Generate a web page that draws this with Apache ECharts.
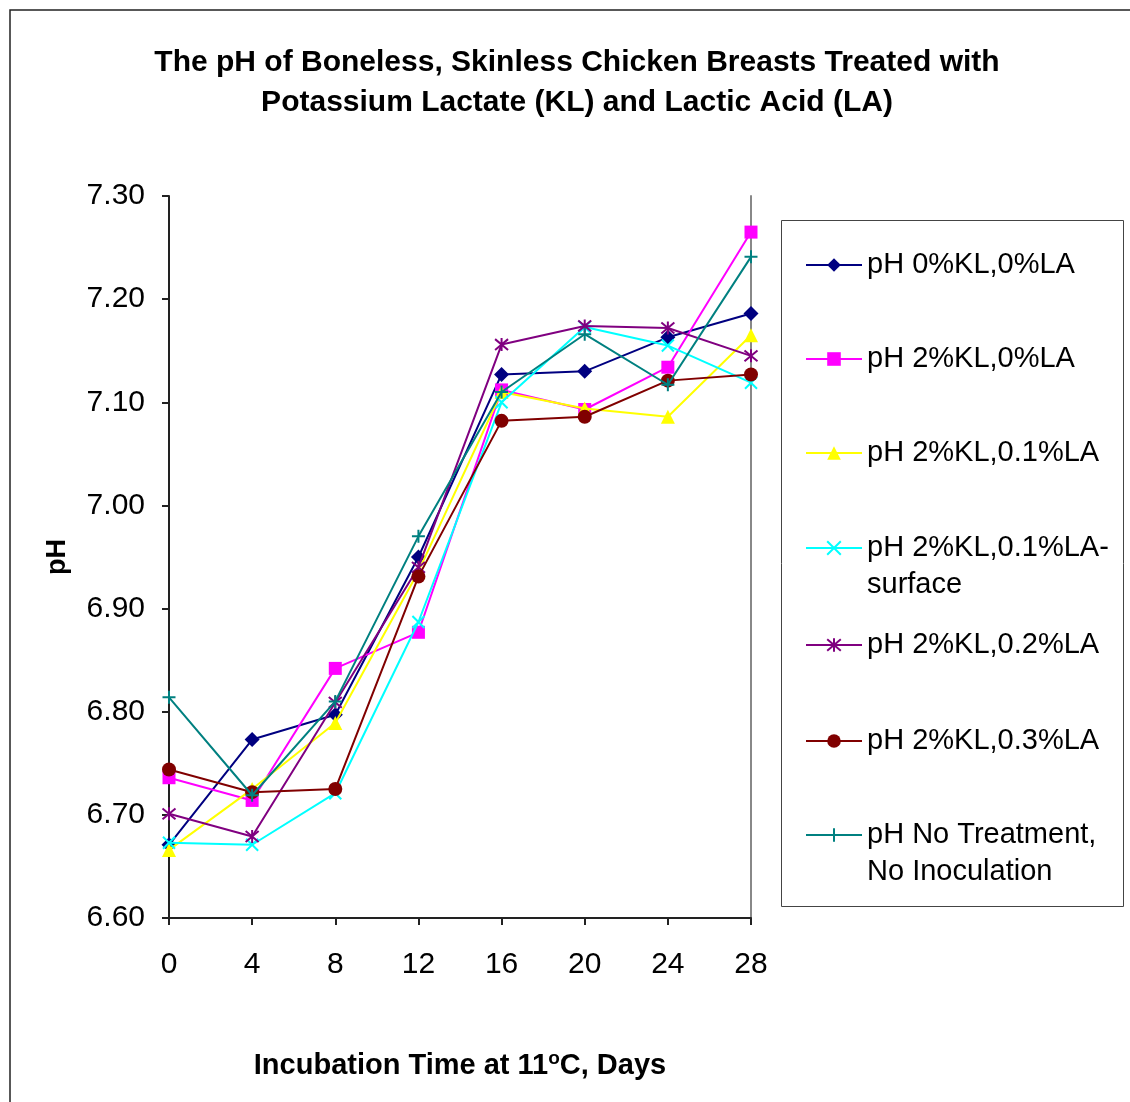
<!DOCTYPE html>
<html>
<head>
<meta charset="utf-8">
<script src="https://cdn.jsdelivr.net/npm/echarts@6/dist/echarts.min.js"></script>
<style>
  html, body { margin: 0; padding: 0; background: #fff; }
  #chart { width: 1130px; height: 1102px; }
</style>
</head>
<body>
<div id="chart"></div>
<script>
// incubation days (x)
var days = [0, 4, 8, 12, 16, 20, 24, 28];
// pH readings per treatment
var ph0KL0LA = [6.671, 6.773, 6.797, 6.950, 7.127, 7.130, 7.163, 7.186];
var ph2KL0LA = [6.736, 6.714, 6.842, 6.877, 7.112, 7.093, 7.134, 7.265];
var ph2KL01LA = [6.666, 6.725, 6.789, 6.936, 7.110, 7.094, 7.086, 7.165];
var ph2KL01LAsurface = [6.673, 6.671, 6.721, 6.887, 7.100, 7.173, 7.155, 7.119];
var ph2KL02LA = [6.701, 6.679, 6.809, 6.940, 7.156, 7.174, 7.172, 7.145];
var ph2KL03LA = [6.744, 6.722, 6.725, 6.931, 7.082, 7.086, 7.121, 7.127];
var phNoTreatment = [6.814, 6.719, 6.810, 6.970, 7.110, 7.166, 7.117, 7.241];

var seriesNames = [
  'pH 0%KL,0%LA',
  'pH 2%KL,0%LA',
  'pH 2%KL,0.1%LA',
  'pH 2%KL,0.1%LA-\nsurface',
  'pH 2%KL,0.2%LA',
  'pH 2%KL,0.3%LA',
  'pH No Treatment,\nNo Inoculation'
];
var seriesData = [ph0KL0LA, ph2KL0LA, ph2KL01LA, ph2KL01LAsurface, ph2KL02LA, ph2KL03LA, phNoTreatment];

var colors = ['#000080', '#ff00ff', '#ffff00', '#00ffff', '#800080', '#800000', '#008080'];
var symbols = [
  'diamond',
  'rect',
  'triangle',
  'path://M0,0L10,10M10,0L0,10',
  'path://M0,0L10,10M10,0L0,10M5,-1L5,11',
  'circle',
  'path://M5,0L5,10M0,5L10,5'
];
var symbolSizes = [15, 13, 14, 12, 13, 14, 13];
var strokeOnly = [false, false, false, true, true, false, true];

// one legend box per entry, so rows sit where the original has them
var legendTops = [246.5, 340.5, 434.5, 492.5, 626.5, 722.5, 779.5];

var chart = echarts.init(document.getElementById('chart'));

var series = seriesNames.map(function (name, i) {
  return {
    name: name,
    type: 'line',
    data: days.map(function (d, j) { return [d, seriesData[i][j]]; }),
    symbol: symbols[i],
    symbolSize: symbolSizes[i],
    showSymbol: true,
    z: 2 + i,
    lineStyle: { color: colors[i], width: 2 },
    itemStyle: strokeOnly[i]
      ? { color: colors[i], borderColor: colors[i], borderWidth: 2 }
      : { color: colors[i], borderWidth: 0 },
    emphasis: { disabled: true },
    animation: false
  };
});

var legends = seriesNames.map(function (name, i) {
  return {
    data: [name],
    orient: 'vertical',
    left: 805,
    top: legendTops[i],
    padding: 0,
    itemWidth: 56,
    itemHeight: 17,
    selectedMode: false,
    // blank first line keeps the icon level with the first text line
    formatter: function (n) { return n.indexOf('\n') >= 0 ? '\n' + n : n; },
    textStyle: {
      fontFamily: 'Liberation Sans',
      fontSize: 29,
      color: '#000',
      lineHeight: 37
    }
  };
});

var option = {
  backgroundColor: '#fff',
  animation: false,
  title: {
    text: 'The pH of Boneless, Skinless Chicken Breasts Treated with\nPotassium Lactate (KL) and Lactic Acid (LA)',
    left: 572,
    top: 38,
    textAlign: 'center',
    textStyle: {
      fontFamily: 'Liberation Sans',
      fontSize: 30,
      fontWeight: 'bold',
      color: '#000',
      lineHeight: 40
    }
  },
  legend: legends,
  grid: { left: 169, right: 379, top: 196, bottom: 184 },
  xAxis: {
    type: 'value',
    min: 0,
    max: 28,
    interval: 4,
    name: 'Incubation Time at 11{sup|o}C, Days',
    nameLocation: 'middle',
    nameGap: 131,
    nameTextStyle: {
      fontFamily: 'Liberation Sans',
      fontSize: 29,
      fontWeight: 'bold',
      color: '#000',
      lineHeight: 34,
      rich: {
        sup: { fontFamily: 'Liberation Sans', fontSize: 19, fontWeight: 'bold', color: '#000', verticalAlign: 'top', lineHeight: 30 }
      }
    },
    axisLine: { show: true, lineStyle: { color: '#222', width: 2 } },
    axisTick: { show: true, inside: false, length: 7, lineStyle: { color: '#222', width: 2 } },
    axisLabel: { margin: 32, fontFamily: 'Liberation Sans', fontSize: 30, color: '#000' },
    splitLine: { show: false }
  },
  yAxis: [{
    type: 'value',
    min: 6.6,
    max: 7.3,
    interval: 0.1,
    name: 'pH',
    nameLocation: 'middle',
    nameGap: 98,
    nameTextStyle: { fontFamily: 'Liberation Sans', fontSize: 27, fontWeight: 'bold', color: '#000' },
    axisLine: { show: true, lineStyle: { color: '#222', width: 2 } },
    axisTick: { show: true, inside: false, length: 7, lineStyle: { color: '#222', width: 2 } },
    axisLabel: {
      margin: 24,
      fontFamily: 'Liberation Sans',
      fontSize: 30,
      color: '#000',
      formatter: function (v) { return v.toFixed(2); }
    },
    splitLine: { show: false }
  }, {
    // plain right edge of the plot area
    type: 'value',
    position: 'right',
    min: 6.6,
    max: 7.3,
    axisLine: { show: true, lineStyle: { color: '#888', width: 2 } },
    axisTick: { show: false },
    axisLabel: { show: false },
    splitLine: { show: false }
  }],
  graphic: [
    {
      type: 'rect',
      shape: { x: 10, y: 10, width: 1140, height: 1110 },
      style: { fill: 'none', stroke: '#222', lineWidth: 1.5 },
      silent: true
    },
    {
      type: 'rect',
      shape: { x: 781.5, y: 220.5, width: 342, height: 686 },
      style: { fill: 'none', stroke: '#444', lineWidth: 1 },
      silent: true
    }
  ],
  series: series
};

chart.setOption(option);
</script>
</body>
</html>
